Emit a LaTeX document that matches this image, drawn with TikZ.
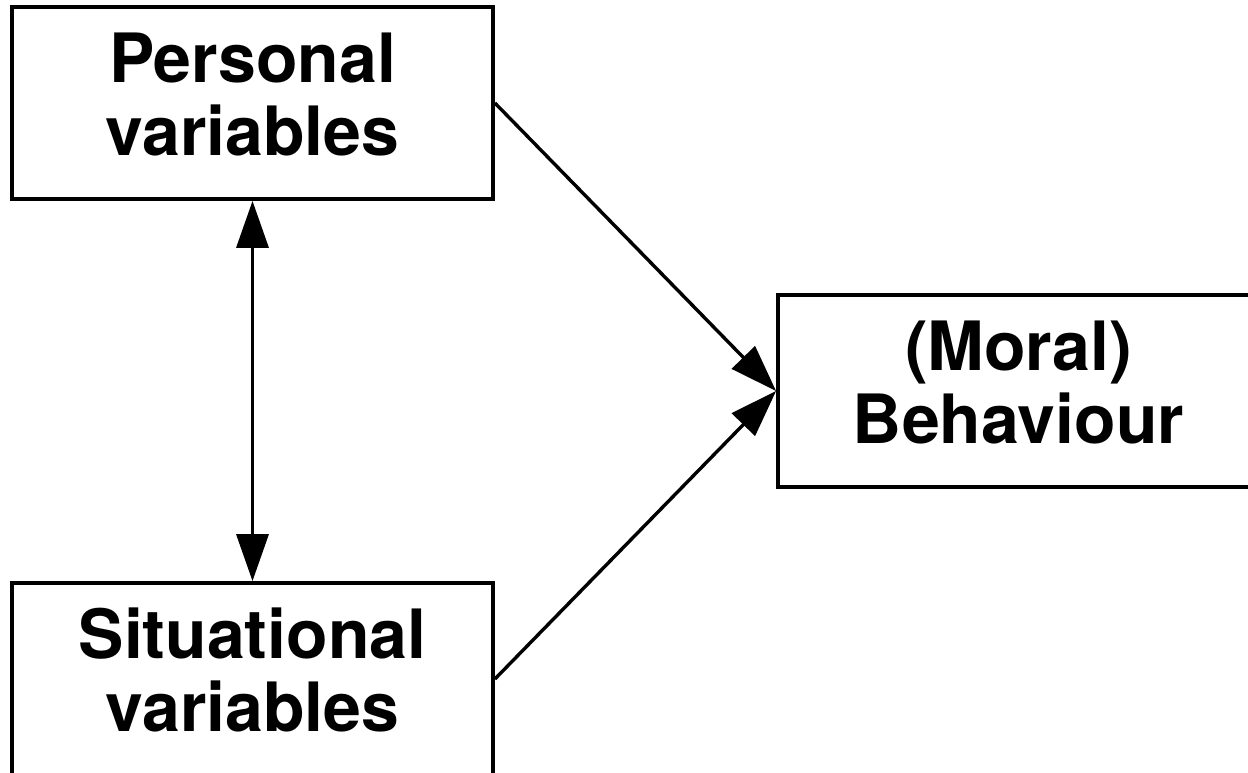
\documentclass[tikz,border=0pt]{standalone}
\usepackage{fontspec}
\setmainfont{TeX Gyre Heros}
\usepackage{tikz}
\usetikzlibrary{arrows.meta,positioning}

\begin{document}
\begin{tikzpicture}[
  x=1pt, y=-1pt,
  box/.style={rectangle, draw, line width=3.8pt, minimum width=481pt,
              minimum height=192pt, align=center, inner sep=0pt,
              font=\fontsize{68}{73}\selectfont\bfseries},
  arrow/.style={-{Triangle[length=47pt,width=32pt]}, line width=3.4pt},
  darrow/.style={{Triangle[length=47pt,width=32pt]}-{Triangle[length=47pt,width=32pt]},
                 line width=3.4pt}
]
  \useasboundingbox (0,0) rectangle (1248,772);

  % ── LEFT: causes ──
  \node[box] (personal) at (252.5,103) {Personal\\variables\\[-55pt]\mbox{}};
  \node[box] (situational) at (252.5,679) {Situational\\variables\\[-55pt]\mbox{}};

  % ── RIGHT: outcome ──
  \node[box] (behaviour) at (1018.5,391) {(Moral)\\Behaviour\\[-55pt]\mbox{}};

  % Arrows
  \draw[darrow] (personal.south) -- (situational.north);
  \draw[arrow] (personal.east) -- (behaviour.west);
  \draw[arrow] (situational.east) -- (behaviour.west);
\end{tikzpicture}
\end{document}
